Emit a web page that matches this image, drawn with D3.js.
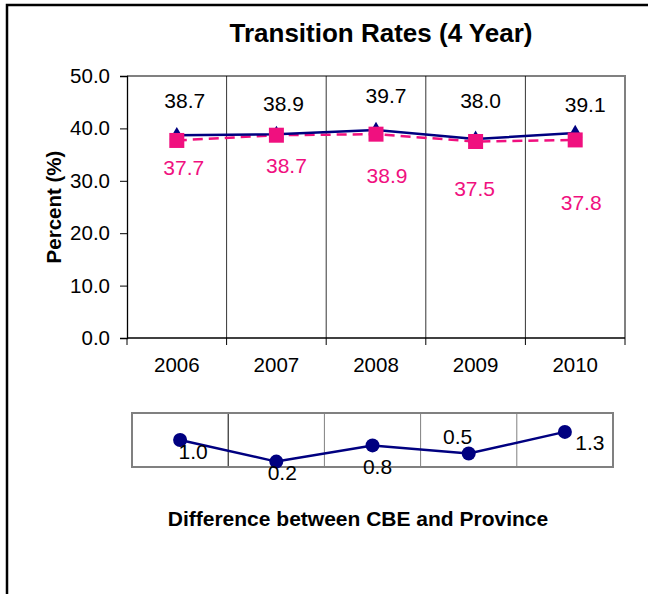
<!DOCTYPE html>
<html>
<head>
<meta charset="utf-8">
<script src="https://cdn.jsdelivr.net/npm/d3@7"></script>
<style>
  body { margin: 0; background: #fff; }
  svg { display: block; font-family: "Liberation Sans", Arial, sans-serif; }
</style>
</head>
<body>
<div id="chart"></div>
<script>
// data
var years = ["2006", "2007", "2008", "2009", "2010"];
var cbe = [38.7, 38.9, 39.7, 38.0, 39.1];
var province = [37.7, 38.7, 38.9, 37.5, 37.8];
var diff = [1.0, 0.2, 0.8, 0.5, 1.3];
var yTicks = [0, 10, 20, 30, 40, 50];

// hand placed label offsets (px from the point), like the original
var cbeLabelOff = [[8, -35], [7, -31], [10, -34], [5, -38], [10, -28]];
var provLabelOff = [[7, 27], [10, 30], [11, 41], [-1, 47], [6, 63]];
var diffLabelOff = [[13, 12], [6, 11], [5, 21], [-11, -17], [25, 11]];

const width = 648, height = 594;
const blue = "#000080", pink = "#F0107F";
const fs = 21;

const svg = d3.select("#chart").append("svg")
  .attr("width", width)
  .attr("height", height);

// outer frame (runs off the right and bottom edge)
svg.append("rect")
  .attr("x", 7).attr("y", 5)
  .attr("width", 700).attr("height", 700)
  .attr("fill", "none").attr("stroke", "#000").attr("stroke-width", 2.5);

svg.append("text")
  .attr("x", 381).attr("y", 42)
  .attr("text-anchor", "middle")
  .attr("font-weight", "bold").attr("font-size", 26)
  .text("Transition Rates (4 Year)");

// ---- top chart ----
const m = { left: 127, right: 625, top: 76, bottom: 338 };

const x = d3.scaleBand().domain(years).range([m.left, m.right]);
const y = d3.scaleLinear().domain([0, 50]).range([m.bottom, m.top]);

// frame: grey top/right
svg.append("path")
  .attr("d", `M${m.left},${m.top}H${m.right}V${m.bottom}`)
  .attr("fill", "none").attr("stroke", "#808080").attr("stroke-width", 2);

// vertical grid at band edges
svg.append("g")
  .selectAll("line")
  .data(years.slice(1))
  .join("line")
    .attr("x1", d => x(d)).attr("x2", d => x(d))
    .attr("y1", m.top).attr("y2", m.bottom)
    .attr("stroke", "#000").attr("stroke-width", 0.8);

// y axis
const yAxis = svg.append("g")
  .attr("transform", `translate(${m.left},0)`)
  .call(d3.axisLeft(y).tickValues(yTicks).tickFormat(d3.format(".1f")).tickSize(7).tickPadding(10));
yAxis.select(".domain").attr("stroke", "#000").attr("stroke-width", 1.3);
yAxis.selectAll("text").attr("font-size", 20.5).attr("fill", "#000")
  .attr("font-family", "Liberation Sans, Arial, sans-serif");

// x axis, ticks between the categories
const xAxis = svg.append("g")
  .attr("transform", `translate(0,${m.bottom})`);
xAxis.append("line")
  .attr("x1", m.left).attr("x2", m.right)
  .attr("stroke", "#000").attr("stroke-width", 1.3);
xAxis.selectAll(".tk")
  .data(years.concat(["end"]))
  .join("line")
    .attr("x1", (d, i) => m.left + i * x.bandwidth())
    .attr("x2", (d, i) => m.left + i * x.bandwidth())
    .attr("y1", 0).attr("y2", 7)
    .attr("stroke", "#000");
xAxis.selectAll("text")
  .data(years)
  .join("text")
    .attr("x", d => x(d) + x.bandwidth() / 2)
    .attr("y", 34)
    .attr("text-anchor", "middle")
    .attr("font-size", 20.5)
    .text(d => d);

svg.append("text")
  .attr("transform", `translate(61,${(m.top + m.bottom) / 2}) rotate(-90)`)
  .attr("text-anchor", "middle")
  .attr("font-weight", "bold").attr("font-size", 20.5)
  .text("Percent (%)");

const cx = (d, i) => x(years[i]) + x.bandwidth() / 2;

const line = d3.line().x(cx).y(d => y(d));

svg.append("path")
  .datum(province)
  .attr("d", line)
  .attr("fill", "none").attr("stroke", pink).attr("stroke-width", 2.5)
  .attr("stroke-dasharray", "10,6");

svg.append("path")
  .datum(cbe)
  .attr("d", line)
  .attr("fill", "none").attr("stroke", blue).attr("stroke-width", 2.5);

svg.append("g")
  .selectAll("path")
  .data(cbe)
  .join("path")
    .attr("transform", (d, i) => `translate(${cx(d, i)},${y(d)})`)
    .attr("d", d3.symbol(d3.symbolTriangle, 90))
    .attr("fill", blue);

svg.append("g")
  .selectAll("rect")
  .data(province)
  .join("rect")
    .attr("x", (d, i) => cx(d, i) - 7.5)
    .attr("y", d => y(d) - 7.5)
    .attr("width", 15).attr("height", 15)
    .attr("fill", pink);

svg.append("g")
  .selectAll("text")
  .data(cbe)
  .join("text")
    .attr("x", (d, i) => cx(d, i) + cbeLabelOff[i][0])
    .attr("y", (d, i) => y(d) + cbeLabelOff[i][1])
    .attr("dy", "0.35em")
    .attr("text-anchor", "middle")
    .attr("font-size", fs)
    .text(d => d.toFixed(1));

svg.append("g")
  .selectAll("text")
  .data(province)
  .join("text")
    .attr("x", (d, i) => cx(d, i) + provLabelOff[i][0])
    .attr("y", (d, i) => y(d) + provLabelOff[i][1])
    .attr("dy", "0.35em")
    .attr("text-anchor", "middle")
    .attr("font-size", fs)
    .attr("fill", pink)
    .text(d => d.toFixed(1));

// ---- difference strip ----
const b = { left: 132, right: 613, top: 413, bottom: 467 };
const x2 = d3.scaleBand().domain(years).range([b.left, b.right]);
const y2 = d3.scaleLinear().domain([0, 2]).range([b.bottom, b.top]);

svg.append("g")
  .selectAll("line")
  .data(years.slice(1))
  .join("line")
    .attr("x1", d => x2(d)).attr("x2", d => x2(d))
    .attr("y1", b.top).attr("y2", b.bottom)
    .attr("stroke", (d, i) => i == 0 ? "#000" : "#808080")
    .attr("stroke-width", 1);

svg.append("rect")
  .attr("x", b.left).attr("y", b.top)
  .attr("width", b.right - b.left).attr("height", b.bottom - b.top)
  .attr("fill", "none").attr("stroke", "#808080").attr("stroke-width", 2);

const cx2 = (d, i) => x2(years[i]) + x2.bandwidth() / 2;

svg.append("path")
  .datum(diff)
  .attr("d", d3.line().x(cx2).y(d => y2(d)))
  .attr("fill", "none").attr("stroke", blue).attr("stroke-width", 2.5);

svg.append("g")
  .selectAll("circle")
  .data(diff)
  .join("circle")
    .attr("cx", cx2).attr("cy", d => y2(d))
    .attr("r", 7)
    .attr("fill", blue);

svg.append("g")
  .selectAll("text")
  .data(diff)
  .join("text")
    .attr("x", (d, i) => cx2(d, i) + diffLabelOff[i][0])
    .attr("y", (d, i) => y2(d) + diffLabelOff[i][1])
    .attr("dy", "0.35em")
    .attr("text-anchor", "middle")
    .attr("font-size", fs)
    .text(d => d.toFixed(1));

svg.append("text")
  .attr("x", 358).attr("y", 526)
  .attr("text-anchor", "middle")
  .attr("font-weight", "bold").attr("font-size", 21)
  .text("Difference between CBE and Province");
</script>
</body>
</html>
